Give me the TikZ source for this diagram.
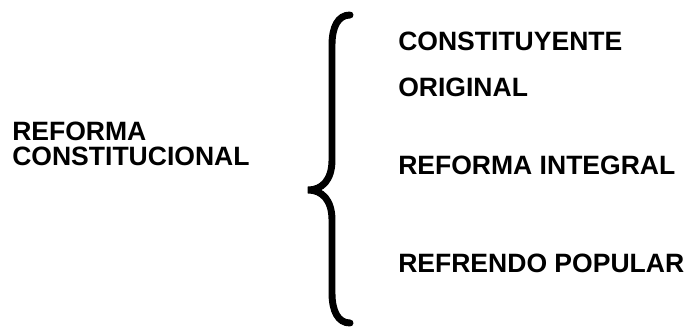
\documentclass[tikz,border=0pt]{standalone}
\usepackage{fontspec}
\setmainfont{Liberation Sans}
\usetikzlibrary{positioning}

\begin{document}
\begin{tikzpicture}[x=0.75pt,y=-0.75pt,
    label node/.style={inner sep=0pt,anchor=base west,font=\fontsize{19.9}{18.75}\selectfont\bfseries}]

\useasboundingbox (0,0) rectangle (686,329);

\node[label node, align=left] (r) at (12,165) {REFORMA\\CONSTITUCIONAL};

\node[label node] (1) at (398,50) {CONSTITUYENTE};
\node[label node] (2) at (398,96) {ORIGINAL};
\node[label node] (3) at (398,174) {REFORMA INTEGRAL};
\node[label node] (4) at (398,272) {REFRENDO POPULAR};

\draw[line width=5.2pt,line cap=round]
(350,15) .. controls (338,15) and (332,27) .. (332,45) -- (332,160)
.. controls (332,180) and (322,190) .. (308,190)
.. controls (322,190) and (332,200) .. (332,220) -- (332,293)
.. controls (332,311) and (338,323) .. (350,323);

\end{tikzpicture}
\end{document}
